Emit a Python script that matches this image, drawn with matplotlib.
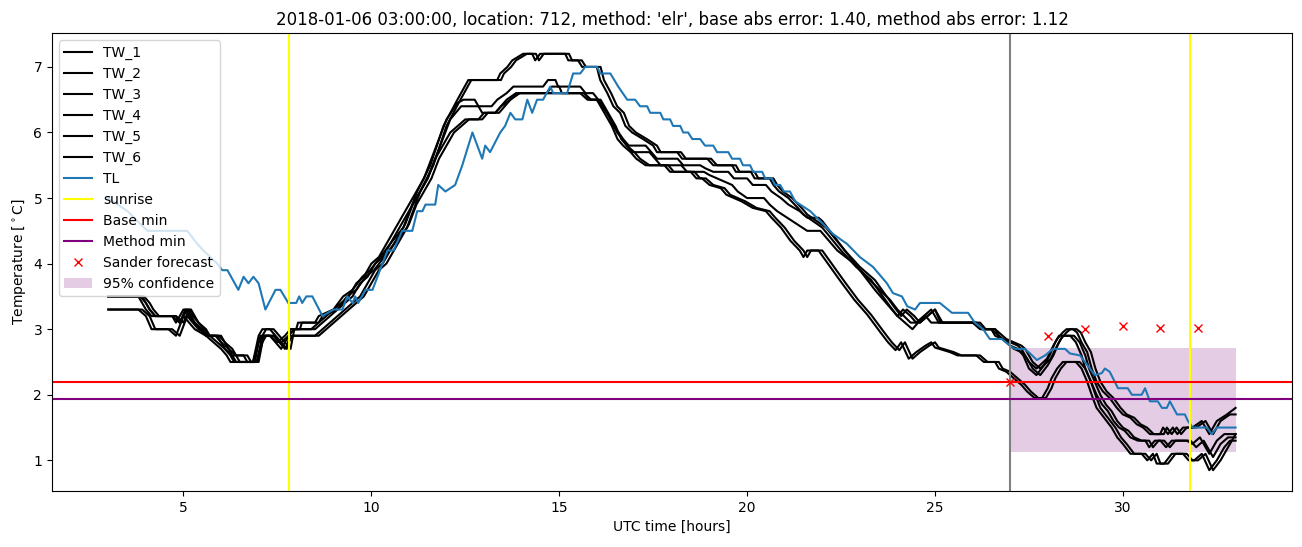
import matplotlib
matplotlib.use("Agg")
import matplotlib.pyplot as plt

# ---------------- data ----------------
TL_hours = [3.0, 3.51, 4.04, 5.1, 5.37, 5.53, 5.9, 6.03, 6.17, 6.46,
            6.6, 6.73, 6.86, 7.0, 7.18, 7.45, 7.58, 7.79, 8.0, 8.08,
            8.16, 8.27, 8.43, 8.7, 8.99, 9.23, 9.36, 9.5, 9.57, 9.65,
            9.84, 10.03, 10.43, 10.59, 10.82, 11.09, 11.22, 11.36, 11.44, 11.7,
            11.78, 11.97, 12.23, 12.42, 12.69, 12.95, 13.03, 13.16, 13.43, 13.56,
            13.7, 13.83, 14.02, 14.15, 14.28, 14.41, 14.57, 14.76, 14.84, 15.21,
            15.37, 15.56, 15.69, 16.01, 16.09, 16.36, 16.57, 16.81, 17.02, 17.15,
            17.34, 17.42, 17.69, 17.77, 17.95, 18.03, 18.22, 18.3, 18.43, 18.54,
            18.75, 18.88, 19.1, 19.2, 19.5, 19.6, 19.81, 19.89, 20.08, 20.16,
            20.4, 20.48, 20.66, 20.74, 20.88, 20.98, 21.14, 21.28, 21.68, 21.94,
            22.29, 22.66, 23.0, 23.35, 23.72, 23.88, 24.12, 24.26, 24.47, 24.6,
            25.13, 25.45, 25.88, 26.06, 26.28, 26.46, 26.78, 26.99, 27.13, 27.39,
            27.53, 27.71, 27.93, 28.14, 28.46, 28.59, 28.86, 28.99, 29.12, 29.26,
            29.44, 29.52, 29.65, 29.87, 30.13, 30.24, 30.5, 30.59, 30.72, 30.93,
            31.04, 31.17, 31.25, 31.44, 31.65, 31.73, 31.86, 32.23, 32.37, 32.5,
            33.0]
TL_temp = [5.0, 4.8, 4.5, 4.5, 4.3, 4.2, 4.0, 3.9, 3.9, 3.6,
           3.8, 3.7, 3.8, 3.7, 3.3, 3.6, 3.6, 3.4, 3.4, 3.5,
           3.4, 3.5, 3.5, 3.2, 3.3, 3.3, 3.5, 3.4, 3.5, 3.4,
           3.6, 3.6, 4.2, 4.2, 4.5, 4.5, 4.8, 4.8, 4.9, 4.9,
           5.2, 5.1, 5.2, 5.5, 6.0, 5.6, 5.8, 5.7, 6.0, 6.1,
           6.3, 6.2, 6.2, 6.5, 6.3, 6.5, 6.5, 6.7, 6.6, 6.6,
           6.9, 6.9, 7.0, 7.0, 6.9, 6.9, 6.7, 6.5, 6.5, 6.4,
           6.4, 6.3, 6.3, 6.2, 6.2, 6.1, 6.1, 6.0, 6.0, 5.9,
           5.9, 5.8, 5.8, 5.7, 5.7, 5.6, 5.6, 5.5, 5.5, 5.4,
           5.4, 5.3, 5.3, 5.2, 5.2, 5.1, 5.1, 4.95, 4.8, 4.65,
           4.45, 4.3, 4.1, 3.95, 3.7, 3.55, 3.5, 3.35, 3.3, 3.4,
           3.4, 3.25, 3.25, 3.1, 3.0, 2.85, 2.85, 2.75, 2.7, 2.7,
           2.63, 2.53, 2.6, 2.7, 2.7, 2.63, 2.6, 2.5, 2.4, 2.3,
           2.33, 2.4, 2.35, 2.1, 2.1, 2.0, 2.0, 2.1, 1.9, 1.9,
           1.8, 1.8, 1.9, 1.7, 1.7, 1.6, 1.5, 1.5, 1.4, 1.5,
           1.5]

TW_1_hours = [3.0, 3.8, 4.0, 4.15, 4.7, 4.8, 5.0, 5.1, 5.3, 5.45,
              5.6, 5.9, 6.0, 6.2, 6.3, 6.6, 6.7, 6.85, 7.0, 7.1,
              7.3, 7.45, 7.6, 7.75, 7.85, 8.0, 8.05, 8.5, 8.6, 8.99,
              9.25, 9.5, 9.76, 9.97, 10.24, 10.5, 10.85, 11.22, 11.57, 11.92,
              12.29, 12.58, 13.35, 13.43, 13.62, 13.75, 14.04, 14.28, 14.36, 14.49,
              15.16, 15.24, 15.5, 15.61, 16.0, 16.09, 16.28, 16.44, 16.62, 16.76,
              16.94, 17.23, 17.5, 17.6, 18.14, 18.27, 18.94, 19.1, 19.6, 19.7,
              20.1, 20.2, 20.6, 20.7, 20.85, 21.1, 21.35, 21.5, 22.0, 22.5,
              22.9, 23.3, 23.55, 23.8, 24.0, 24.15, 24.35, 24.5, 24.7, 24.9,
              25.0, 25.1, 26.1, 26.25, 26.5, 26.7, 26.8, 27.0, 27.2, 27.3,
              27.5, 27.7, 27.98, 28.15, 28.25, 28.4, 28.5, 28.67, 28.78, 28.9,
              29.05, 29.17, 29.3, 29.47, 29.65, 29.84, 30.0, 30.2, 30.37, 30.54,
              30.72, 30.99, 31.07, 31.2, 31.33, 31.45, 31.6, 31.85, 32.1, 32.3,
              32.5, 32.77, 33.0]
TW_1_temp = [3.5, 3.5, 3.3, 3.2, 3.2, 3.1, 3.3, 3.3, 3.1, 3.0,
             2.9, 2.9, 2.8, 2.7, 2.6, 2.6, 2.5, 2.5, 2.9, 3.0,
             3.0, 2.9, 2.8, 2.7, 3.0, 3.0, 3.1, 3.1, 3.2, 3.3,
             3.5, 3.6, 3.8, 3.9, 4.1, 4.3, 4.55, 5.1, 5.5, 6.1,
             6.5, 6.8, 6.8, 6.9, 7.0, 7.1, 7.2, 7.2, 7.1, 7.2,
             7.2, 7.1, 7.1, 7.0, 7.0, 6.8, 6.6, 6.4, 6.3, 6.1,
             6.0, 5.9, 5.8, 5.7, 5.7, 5.6, 5.6, 5.5, 5.5, 5.4,
             5.4, 5.3, 5.3, 5.2, 5.1, 5.0, 4.85, 4.75, 4.55, 4.2,
             3.95, 3.75, 3.55, 3.35, 3.2, 3.3, 3.2, 3.1, 3.2, 3.3,
             3.2, 3.1, 3.1, 3.0, 3.0, 2.9, 2.85, 2.8, 2.75, 2.7,
             2.5, 2.4, 2.55, 2.75, 2.85, 2.95, 3.0, 3.0, 2.95, 2.8,
             2.65, 2.4, 2.2, 2.05, 1.95, 1.8, 1.7, 1.65, 1.55, 1.5,
             1.4, 1.4, 1.5, 1.4, 1.5, 1.4, 1.5, 1.5, 1.6, 1.4,
             1.6, 1.7, 1.8]

TW_2_hours = [3.0, 3.9, 4.1, 4.25, 4.8, 4.9, 5.1, 5.2, 5.4, 5.55,
              5.7, 6.0, 6.1, 6.3, 6.4, 6.7, 6.8, 6.95, 7.1, 7.2,
              7.4, 7.55, 7.7, 7.85, 7.95, 8.1, 8.15, 8.6, 8.7, 9.1,
              9.35, 9.6, 9.85, 10.07, 10.34, 10.6, 10.95, 11.3, 11.65, 12.0,
              12.37, 12.66, 13.45, 13.53, 13.72, 13.85, 14.14, 14.38, 14.46, 14.59,
              15.26, 15.34, 15.6, 15.71, 16.1, 16.19, 16.38, 16.54, 16.72, 16.86,
              17.04, 17.33, 17.6, 17.7, 18.24, 18.37, 19.04, 19.2, 19.7, 19.8,
              20.2, 20.3, 20.7, 20.8, 20.95, 21.2, 21.45, 21.6, 22.1, 22.6,
              23.0, 23.4, 23.65, 23.9, 24.1, 24.25, 24.45, 24.6, 24.8, 25.0,
              25.1, 25.2, 26.2, 26.35, 26.6, 26.8, 26.9, 27.1, 27.3, 27.4,
              27.6, 27.8, 28.08, 28.25, 28.35, 28.5, 28.6, 28.77, 28.88, 29.0,
              29.15, 29.27, 29.4, 29.57, 29.75, 29.94, 30.1, 30.3, 30.47, 30.64,
              30.82, 31.09, 31.17, 31.3, 31.43, 31.55, 31.7, 31.95, 32.2, 32.4,
              32.6, 32.85, 33.0]
TW_2_temp = [3.5, 3.5, 3.3, 3.2, 3.2, 3.1, 3.3, 3.3, 3.1, 3.0,
             2.9, 2.9, 2.8, 2.7, 2.6, 2.6, 2.5, 2.5, 2.9, 3.0,
             3.0, 2.9, 2.8, 2.7, 3.0, 3.0, 3.1, 3.1, 3.2, 3.3,
             3.5, 3.6, 3.8, 3.9, 4.1, 4.3, 4.55, 5.1, 5.5, 6.1,
             6.5, 6.8, 6.8, 6.9, 7.0, 7.1, 7.2, 7.2, 7.1, 7.2,
             7.2, 7.1, 7.1, 7.0, 7.0, 6.8, 6.6, 6.4, 6.3, 6.1,
             6.0, 5.9, 5.8, 5.7, 5.7, 5.6, 5.6, 5.5, 5.5, 5.4,
             5.4, 5.3, 5.3, 5.2, 5.1, 5.0, 4.85, 4.75, 4.55, 4.2,
             3.95, 3.75, 3.55, 3.35, 3.2, 3.3, 3.2, 3.1, 3.2, 3.3,
             3.2, 3.1, 3.1, 3.0, 3.0, 2.9, 2.85, 2.8, 2.75, 2.7,
             2.5, 2.4, 2.55, 2.75, 2.85, 2.95, 3.0, 3.0, 2.95, 2.8,
             2.65, 2.4, 2.2, 2.05, 1.95, 1.8, 1.7, 1.65, 1.55, 1.5,
             1.4, 1.4, 1.5, 1.4, 1.5, 1.4, 1.5, 1.5, 1.6, 1.4,
             1.6, 1.7, 1.7]

TW_3_hours = [3.0, 3.85, 4.0, 4.1, 4.25, 4.7, 4.9, 5.05, 5.15, 5.3,
              5.5, 5.6, 5.85, 6.0, 6.1, 6.3, 6.4, 6.9, 7.0, 7.1,
              7.3, 7.5, 7.7, 7.85, 8.4, 8.6, 8.8, 9.0, 9.2, 9.4,
              9.6, 9.8, 10.0, 10.2, 10.4, 10.6, 10.8, 11.0, 11.2, 11.4,
              11.6, 11.8, 12.0, 12.29, 12.45, 12.75, 12.85, 13.2, 13.35, 13.6,
              13.78, 14.57, 14.7, 14.9, 14.97, 15.56, 15.7, 15.9, 16.04, 16.28,
              16.44, 16.58, 16.7, 16.85, 17.3, 17.45, 17.6, 18.15, 18.3, 18.75,
              18.9, 19.1, 19.5, 19.65, 20.0, 20.15, 20.5, 20.65, 20.9, 21.1,
              21.4, 21.6, 21.9, 22.0, 22.2, 22.6, 23.0, 23.4, 23.7, 24.0,
              24.2, 24.4, 24.55, 24.75, 24.9, 26.0, 26.2, 26.5, 26.6, 26.8,
              27.0, 27.2, 27.35, 27.5, 27.7, 27.9, 28.05, 28.2, 28.3, 28.6,
              28.75, 28.9, 29.0, 29.15, 29.3, 29.45, 29.6, 29.75, 29.9, 30.05,
              30.2, 30.4, 30.6, 30.7, 30.85, 31.0, 31.15, 31.3, 31.7, 31.85,
              32.05, 32.3, 32.5, 32.7, 33.0]
TW_3_temp = [3.5, 3.5, 3.4, 3.3, 3.2, 3.2, 3.1, 3.3, 3.2, 3.1,
             3.0, 2.9, 2.9, 2.8, 2.7, 2.6, 2.5, 2.5, 2.8, 2.9,
             2.9, 2.8, 2.9, 3.0, 3.0, 3.1, 3.2, 3.3, 3.4, 3.5,
             3.7, 3.8, 4.0, 4.1, 4.3, 4.5, 4.7, 4.9, 5.1, 5.3,
             5.6, 5.9, 6.2, 6.45, 6.5, 6.5, 6.4, 6.4, 6.5, 6.6,
             6.7, 6.7, 6.8, 6.8, 6.7, 6.7, 6.6, 6.6, 6.5, 6.3,
             6.1, 6.0, 5.9, 5.8, 5.8, 5.7, 5.6, 5.6, 5.5, 5.5,
             5.45, 5.4, 5.4, 5.3, 5.3, 5.2, 5.2, 5.1, 5.0, 4.9,
             4.8, 4.7, 4.7, 4.65, 4.5, 4.2, 3.9, 3.6, 3.4, 3.2,
             3.1, 3.0, 3.1, 3.2, 3.1, 3.1, 3.0, 3.0, 2.9, 2.85,
             2.75, 2.7, 2.6, 2.4, 2.3, 2.45, 2.6, 2.8, 2.9, 2.9,
             2.8, 2.6, 2.4, 2.2, 2.0, 1.85, 1.75, 1.6, 1.5, 1.45,
             1.35, 1.3, 1.3, 1.2, 1.3, 1.3, 1.2, 1.3, 1.3, 1.25,
             1.35, 1.1, 1.3, 1.4, 1.4]

TW_4_hours = [3.0, 3.95, 4.1, 4.2, 4.35, 4.8, 5.0, 5.15, 5.25, 5.4,
              5.6, 5.7, 5.95, 6.1, 6.2, 6.4, 6.5, 7.0, 7.1, 7.2,
              7.4, 7.6, 7.8, 7.95, 8.5, 8.7, 8.9, 9.1, 9.3, 9.5,
              9.7, 9.9, 10.1, 10.3, 10.5, 10.7, 10.9, 11.1, 11.3, 11.5,
              11.7, 11.9, 12.1, 12.39, 12.55, 12.85, 12.95, 13.3, 13.45, 13.7,
              13.88, 14.67, 14.8, 15.0, 15.07, 15.66, 15.8, 16.0, 16.14, 16.38,
              16.54, 16.68, 16.8, 16.95, 17.4, 17.55, 17.7, 18.25, 18.4, 18.85,
              19.0, 19.2, 19.6, 19.75, 20.0, 20.45, 20.6, 20.8, 21.2, 21.6,
              21.95, 22.1, 22.4, 22.85, 23.35, 23.8, 24.0, 24.35, 24.6, 24.8,
              25.0, 25.15, 26.1, 26.3, 26.6, 26.7, 26.9, 27.1, 27.3, 27.45,
              27.6, 27.8, 28.0, 28.15, 28.3, 28.4, 28.7, 28.85, 29.0, 29.1,
              29.25, 29.4, 29.55, 29.7, 29.85, 30.0, 30.15, 30.3, 30.5, 30.7,
              30.8, 30.95, 31.1, 31.25, 31.4, 31.8, 31.95, 32.15, 32.4, 32.6,
              32.8, 33.0]
TW_4_temp = [3.5, 3.5, 3.4, 3.3, 3.2, 3.2, 3.1, 3.3, 3.2, 3.1,
             3.0, 2.9, 2.9, 2.8, 2.7, 2.6, 2.5, 2.5, 2.8, 2.9,
             2.9, 2.8, 2.9, 3.0, 3.0, 3.1, 3.2, 3.3, 3.4, 3.5,
             3.7, 3.8, 4.0, 4.1, 4.3, 4.5, 4.7, 4.9, 5.1, 5.3,
             5.6, 5.9, 6.2, 6.4, 6.4, 6.4, 6.3, 6.3, 6.4, 6.5,
             6.6, 6.6, 6.7, 6.7, 6.6, 6.6, 6.5, 6.5, 6.4, 6.2,
             6.0, 5.9, 5.8, 5.7, 5.7, 5.6, 5.5, 5.5, 5.4, 5.4,
             5.35, 5.3, 5.2, 5.1, 5.0, 5.0, 4.9, 4.8, 4.65, 4.5,
             4.5, 4.4, 4.2, 4.0, 3.7, 3.45, 3.3, 3.1, 3.1, 3.2,
             3.3, 3.1, 3.1, 3.0, 3.0, 2.9, 2.8, 2.7, 2.65, 2.55,
             2.4, 2.3, 2.45, 2.6, 2.8, 2.9, 2.9, 2.8, 2.6, 2.4,
             2.2, 2.0, 1.85, 1.75, 1.6, 1.5, 1.45, 1.35, 1.3, 1.3,
             1.2, 1.3, 1.3, 1.2, 1.3, 1.3, 1.2, 1.3, 1.05, 1.25,
             1.35, 1.35]

TW_5_hours = [3.0, 3.8, 4.0, 4.15, 4.6, 4.8, 5.0, 5.15, 5.3, 5.6,
              5.8, 6.0, 6.15, 6.25, 6.85, 6.95, 7.05, 7.3, 7.45, 7.6,
              7.8, 7.9, 8.5, 8.7, 8.9, 9.1, 9.3, 9.5, 9.7, 9.9,
              10.1, 10.3, 10.5, 10.7, 10.9, 11.1, 11.3, 11.5, 11.7, 11.9,
              12.1, 12.3, 12.5, 12.85, 13.0, 13.3, 13.45, 13.6, 13.85, 15.56,
              15.75, 16.0, 16.2, 16.4, 16.55, 16.7, 16.9, 17.05, 17.3, 17.8,
              17.95, 18.5, 18.65, 18.8, 19.0, 19.3, 19.45, 19.85, 20.15, 20.5,
              20.65, 20.9, 21.15, 21.4, 21.5, 21.6, 21.75, 21.9, 22.15, 22.5,
              22.85, 23.2, 23.55, 23.75, 23.95, 24.1, 24.3, 24.5, 24.75, 24.9,
              25.0, 25.4, 25.6, 26.1, 26.3, 26.6, 26.7, 26.9, 27.1, 27.3,
              27.45, 27.65, 27.85, 28.0, 28.1, 28.25, 28.4, 28.75, 28.9, 29.05,
              29.2, 29.3, 29.5, 29.7, 29.85, 30.0, 30.2, 30.5, 30.65, 30.8,
              30.9, 31.1, 31.3, 31.6, 31.75, 31.9, 32.1, 32.3, 32.5, 32.7,
              32.85, 33.0]
TW_5_temp = [3.3, 3.3, 3.2, 3.0, 3.0, 2.9, 3.2, 3.1, 3.0, 2.9,
             2.8, 2.7, 2.6, 2.5, 2.5, 2.7, 2.9, 2.9, 2.8, 2.7,
             2.9, 2.9, 2.9, 3.0, 3.1, 3.2, 3.3, 3.4, 3.5, 3.7,
             3.9, 4.0, 4.2, 4.4, 4.6, 4.9, 5.1, 5.3, 5.6, 5.8,
             6.0, 6.1, 6.2, 6.2, 6.3, 6.3, 6.4, 6.5, 6.6, 6.6,
             6.5, 6.5, 6.3, 6.1, 5.9, 5.8, 5.7, 5.6, 5.5, 5.5,
             5.4, 5.4, 5.3, 5.3, 5.2, 5.15, 5.05, 4.95, 4.85, 4.8,
             4.7, 4.55, 4.35, 4.2, 4.1, 4.2, 4.2, 4.2, 4.0, 3.72,
             3.45, 3.22, 2.95, 2.8, 2.68, 2.8, 2.55, 2.65, 2.75, 2.8,
             2.72, 2.65, 2.6, 2.6, 2.5, 2.5, 2.4, 2.35, 2.25, 2.15,
             2.05, 1.95, 1.95, 2.1, 2.25, 2.4, 2.5, 2.5, 2.4, 2.2,
             1.95, 1.8, 1.65, 1.5, 1.35, 1.25, 1.1, 1.1, 1.0, 1.1,
             0.95, 0.95, 1.1, 1.1, 1.0, 1.0, 1.1, 0.85, 1.0, 1.2,
             1.3, 1.3]

TW_6_hours = [3.0, 3.9, 4.1, 4.25, 4.7, 4.9, 5.1, 5.25, 5.4, 5.7,
              5.9, 6.1, 6.25, 6.35, 6.95, 7.05, 7.15, 7.4, 7.55, 7.7,
              7.9, 8.0, 8.6, 8.8, 9.0, 9.2, 9.4, 9.6, 9.8, 10.0,
              10.2, 10.4, 10.6, 10.8, 11.0, 11.2, 11.4, 11.6, 11.8, 12.0,
              12.2, 12.4, 12.6, 12.95, 13.1, 13.4, 13.55, 13.7, 13.95, 15.66,
              15.85, 16.1, 16.3, 16.5, 16.65, 16.8, 17.0, 17.15, 17.4, 17.9,
              18.05, 18.6, 18.75, 18.9, 19.1, 19.4, 19.55, 19.95, 20.25, 20.6,
              20.75, 21.0, 21.25, 21.5, 21.6, 21.7, 21.85, 22.0, 22.25, 22.6,
              22.95, 23.3, 23.65, 23.85, 24.05, 24.2, 24.4, 24.6, 24.85, 25.0,
              25.1, 25.5, 25.7, 26.2, 26.4, 26.7, 26.8, 27.0, 27.2, 27.4,
              27.55, 27.75, 27.95, 28.1, 28.2, 28.35, 28.5, 28.85, 29.0, 29.15,
              29.3, 29.4, 29.6, 29.8, 29.95, 30.1, 30.3, 30.6, 30.75, 30.9,
              31.0, 31.2, 31.4, 31.7, 31.85, 32.0, 32.2, 32.4, 32.6, 32.8,
              32.95, 33.0]
TW_6_temp = [3.3, 3.3, 3.2, 3.0, 3.0, 2.9, 3.2, 3.1, 3.0, 2.9,
             2.8, 2.7, 2.6, 2.5, 2.5, 2.7, 2.9, 2.9, 2.8, 2.7,
             2.9, 2.9, 2.9, 3.0, 3.1, 3.2, 3.3, 3.4, 3.5, 3.7,
             3.9, 4.0, 4.2, 4.4, 4.6, 4.9, 5.1, 5.3, 5.6, 5.8,
             6.0, 6.1, 6.2, 6.2, 6.3, 6.3, 6.4, 6.5, 6.6, 6.6,
             6.5, 6.5, 6.3, 6.1, 5.9, 5.8, 5.7, 5.6, 5.5, 5.5,
             5.4, 5.4, 5.3, 5.3, 5.2, 5.15, 5.05, 4.95, 4.85, 4.8,
             4.7, 4.55, 4.35, 4.2, 4.1, 4.2, 4.2, 4.2, 4.0, 3.72,
             3.45, 3.22, 2.95, 2.8, 2.68, 2.8, 2.55, 2.65, 2.75, 2.8,
             2.72, 2.65, 2.6, 2.6, 2.5, 2.5, 2.4, 2.35, 2.25, 2.15,
             2.05, 1.95, 1.95, 2.1, 2.25, 2.4, 2.5, 2.5, 2.4, 2.2,
             1.95, 1.8, 1.65, 1.5, 1.35, 1.25, 1.1, 1.1, 1.0, 1.1,
             0.95, 0.95, 1.1, 1.1, 1.0, 1.0, 1.1, 0.85, 1.0, 1.2,
             1.35, 1.4]

sunrise_hours = [7.82, 31.78]
forecast_start = 27.0
base_min = 2.2
method_min = 1.93
sander_hours = [27, 28, 29, 30, 31, 32]
sander_temp = [2.2, 2.9, 3.0, 3.05, 3.02, 3.02]
conf_hours = [27, 33]
conf_low = [1.12, 1.12]
conf_high = [2.72, 2.72]

title = ("2018-01-06 03:00:00, location: 712, method: 'elr', "
         "base abs error: 1.40, method abs error: 1.12")

# ---------------- plot ----------------
fig = plt.figure(figsize=(13.02, 5.47), dpi=100)
ax = fig.add_axes([0.0399, 0.1024, 0.9524, 0.8373])

tw = [(TW_1_hours, TW_1_temp), (TW_2_hours, TW_2_temp), (TW_3_hours, TW_3_temp),
      (TW_4_hours, TW_4_temp), (TW_5_hours, TW_5_temp), (TW_6_hours, TW_6_temp)]
for i, (h, t) in enumerate(tw):
    ax.plot(h, t, color='black', label=f'TW_{i + 1}')
ax.plot(TL_hours, TL_temp, color='tab:blue', label='TL')

ax.axvline(sunrise_hours[0], color='yellow', label='sunrise')
ax.axvline(sunrise_hours[1], color='yellow')
ax.axvline(forecast_start, color='grey')
ax.axhline(base_min, color='red', label='Base min')
ax.axhline(method_min, color='purple', label='Method min')
ax.plot(sander_hours, sander_temp, 'x', color='red', linestyle='none',
        label='Sander forecast')
ax.fill_between(conf_hours, conf_low, conf_high, color='purple', alpha=0.2,
                linewidth=0, label='95% confidence')

ax.set_title(title)
ax.set_xlabel('UTC time [hours]')
ax.set_ylabel(r'Temperature [$^\circ$C]')
ax.legend(loc='upper left')

fig.savefig('out.png', dpi=100)
